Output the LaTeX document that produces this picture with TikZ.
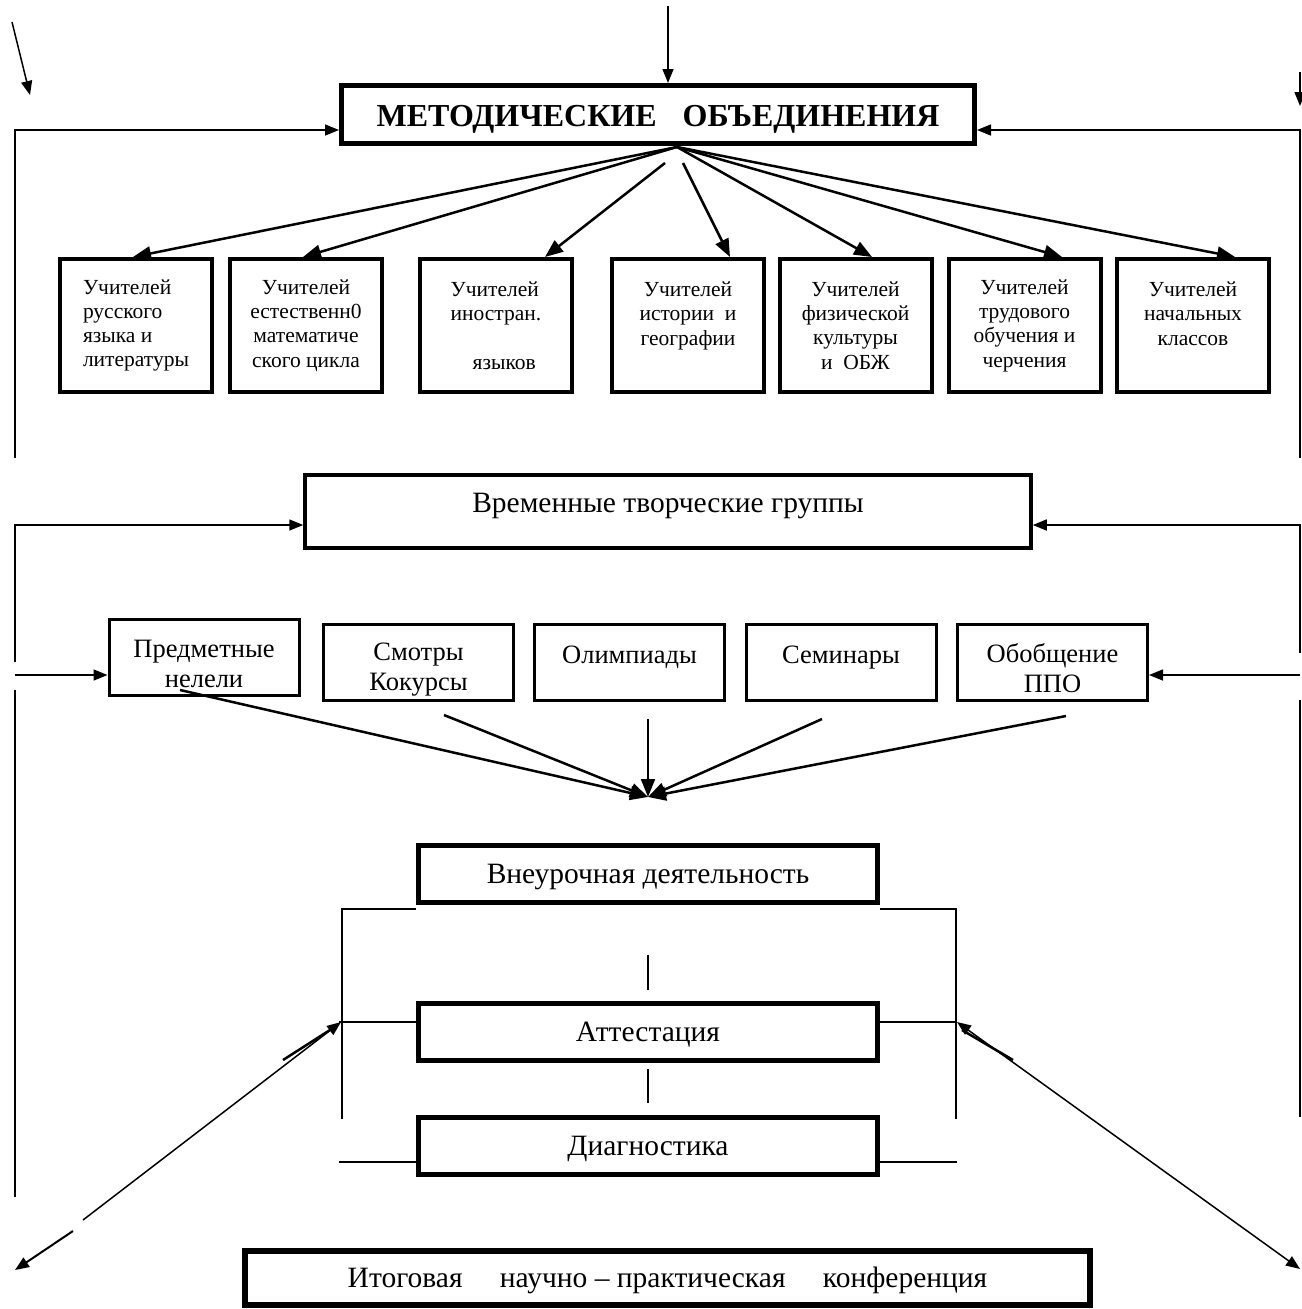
\documentclass[tikz,border=0pt]{standalone}
\usepackage{fontspec}
\setmainfont{Liberation Serif}
\usetikzlibrary{shapes,arrows.meta,positioning}
\newcommand{\topgap}{\rule{0pt}{31pt}}

\begin{document}
\begin{tikzpicture}[
    x=1pt, y=-1pt,
    thick,
    headbox/.style={rectangle, draw=black, line width=5pt, minimum width=633pt, minimum height=58pt, text height=30pt, text depth=6pt, font=\fontsize{32}{36}\selectfont\bfseries},
    teacher/.style={rectangle, draw=black, line width=4pt, minimum width=152pt, minimum height=133pt, align=center, font=\fontsize{21.5}{24.3}\selectfont},
    groupbox/.style={rectangle, draw=black, line width=3.5pt, minimum width=726pt, minimum height=73pt, text height=19pt, text depth=18pt, font=\fontsize{29.5}{32}\selectfont},
    event/.style={rectangle, draw=black, line width=3pt, minimum width=190pt, minimum height=76pt, align=center, font=\fontsize{26.5}{30}\selectfont},
    work/.style={rectangle, draw=black, line width=5pt, minimum width=459pt, minimum height=57pt, text height=25pt, text depth=6pt, font=\fontsize{29.5}{32}\selectfont},
    arrow/.style={line width=2.5pt, -{Triangle[length=18pt,width=14pt]}},
    thinarrow/.style={line width=1.5pt, -{Triangle[length=14pt,width=11pt]}},
    wire/.style={line width=1.5pt}
]
\useasboundingbox (0,0) rectangle (1301,1309);

% Head
\node[headbox] (meth) at (658,114.5) {МЕТОДИЧЕСКИЕ\hspace{18pt} ОБЪЕДИНЕНИЯ};

% Teachers
\node[teacher, align=left] (russ) at (136,325.5) {Учителей\\русского\\языка и\\литературы};
\node[teacher] (nat) at (306,325.5) {Учителей\\естественн0\\математиче\\ского цикла};
\node[teacher, align=left] (lang) at (496,325.5) {Учителей\\иностран.\\~\\\hspace*{22pt}языков};
\node[teacher] (hist) at (688,325.5) {Учителей\\истории\ \ и\\географии\\~};
\node[teacher] (phys) at (855.5,325.5) {Учителей\\физической\\культуры\\и\ \ ОБЖ};
\node[teacher] (labour) at (1024.5,325.5) {Учителей\\трудового\\обучения и\\черчения};
\node[teacher] (prim) at (1193,325.5) {Учителей\\начальных\\классов\\~};

% Groups
\node[groupbox] (temp) at (668,511.5) {Временные творческие группы};

% Events
\node[event] (weeks) at (204,657.5) {\topgap Предметные\\нелели};
\node[event] (shows) at (418.5,662.5) {\topgap Смотры\\Кокурсы};
\node[event] (olymp) at (629.5,662.5) {\topgap Олимпиады\\~};
\node[event] (semin) at (841,662.5) {\topgap Семинары\\~};
\node[event] (ppo) at (1052.5,662.5) {\topgap Обобщение\\ППО};

% Work
\node[work] (extra) at (648,874) {Внеурочная деятельность};
\node[work] (attest) at (648,1031.5) {Аттестация};
\node[work] (diag) at (648,1146) {Диагностика};
\node[work, minimum width=845pt, minimum height=54pt, line width=6pt] (conf) at (667.5,1278) {Итоговая\hspace{30pt} научно – практическая\hspace{30pt} конференция};

% Inputs
\coordinate (topin) at (668,6);
\draw[thinarrow] (topin) -- (topin |- meth.north);
\coordinate (tlA) at (12,22);
\coordinate (tlB) at (30,95);
\draw[thinarrow] (tlA) -- (tlB);
\coordinate (trA) at (1300,72);
\coordinate (trB) at (1300,106);
\draw[thinarrow] (trA) -- (trB);

% Side lines
\coordinate (lA) at (15,458);
\coordinate (rA) at (1300,458);
\draw[thinarrow] (lA) |- ([yshift=-15.5pt]meth.west);
\draw[thinarrow] (rA) |- ([yshift=-15.5pt]meth.east);
\coordinate (lB) at (15,662);
\coordinate (rB) at (1300,653);
\draw[thinarrow] (lB) |- ([yshift=-13.5pt]temp.west);
\draw[thinarrow] (rB) |- ([yshift=-13.5pt]temp.east);
\coordinate (lC) at (15,675);
\coordinate (rC) at (1300,675);
\draw[thinarrow] (lC) -- (lC -| weeks.west);
\draw[thinarrow] (rC) -- (rC -| ppo.east);
\coordinate (lD) at (15,690);
\coordinate (lE) at (15,1197);
\draw[wire] (lD) -- (lE);
\coordinate (rD) at (1300,700);
\coordinate (rE) at (1300,1117);
\draw[wire] (rD) -- (rE);

% Fan to teachers
\coordinate (fan) at (677,147);
\coordinate (fanL) at (665,163);
\coordinate (fanR) at (683,163);
\draw[arrow] (fan) -- ([xshift=-3pt]russ.north);
\draw[arrow] (fan) -- ([xshift=-3pt]nat.north);
\draw[arrow] (fanL) -- ([xshift=49pt]lang.north);
\draw[arrow] (fanR) -- ([xshift=42pt]hist.north);
\draw[arrow] (fan) -- ([xshift=16.5pt]phys.north);
\draw[arrow] (fan) -- ([xshift=37.5pt]labour.north);
\draw[arrow] (fan) -- ([xshift=42pt]prim.north);

% Fan to activity
\coordinate (meet) at (648,797);
\coordinate (wA) at (180,690);
\coordinate (wB) at (444,715);
\coordinate (wC) at (648,719);
\coordinate (wD) at (822,719);
\coordinate (wE) at (1066,716);
\draw[arrow] (wA) -- (meet);
\draw[arrow] (wB) -- (meet);
\draw[arrow, line width=2pt] (wC) -- (meet);
\draw[arrow] (wD) -- (meet);
\draw[arrow] (wE) -- (meet);

% Bracket
\draw[wire] ([yshift=-4pt]extra.south west) -| (342,1119);
\draw[wire] ([yshift=-4pt]extra.south east) -| (956,1119);
\draw[wire] ([yshift=9.5pt]attest.west) -- ++(-77,0);
\draw[wire] ([yshift=9.5pt]attest.east) -- ++(77,0);
\draw[wire] ([yshift=-16pt]diag.west) -- ++(-77,0);
\draw[wire] ([yshift=-16pt]diag.east) -- ++(77,0);
\draw[wire] ([yshift=-49.5pt]extra.south) -- ([yshift=10.5pt]attest.north);
\draw[wire] ([yshift=-6.5pt]attest.south) -- ([yshift=12.5pt]diag.north);

% Diagonals
\coordinate (dL) at (341,1022);
\coordinate (dLa) at (83,1220);
\coordinate (dLb) at (73,1231);
\coordinate (dLc) at (15,1270);
\draw[thinarrow] (dLa) -- (dL);
\draw[thinarrow, line width=2pt] (dLb) -- (dLc);
\draw[line width=2.5pt] (283,1060) -- (330,1030);
\coordinate (dR) at (957,1022);
\coordinate (dRa) at (1300,1269);
\draw[line width=1.5pt, {Triangle[length=14pt,width=11pt]}-{Triangle[length=14pt,width=11pt]}] (dR) -- (dRa);
\draw[line width=2.5pt] (962,1030) -- (1013,1060);
\end{tikzpicture}
\end{document}
